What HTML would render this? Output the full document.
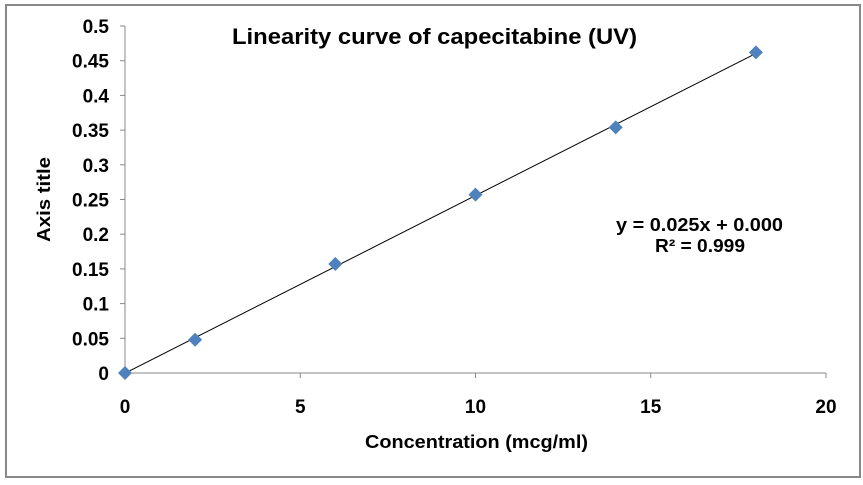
<!DOCTYPE html>
<html><head><meta charset="utf-8"><style>
html,body{margin:0;padding:0;background:#fff;}
svg text{font-family:"Liberation Sans",Arial,sans-serif;font-weight:bold;fill:#000;}
</style></head><body>
<svg id="chart" width="863" height="480" xmlns="http://www.w3.org/2000/svg">
<rect x="6" y="5" width="854" height="472" fill="#fff" stroke="#888" stroke-width="2"/>
<text x="232" y="44" font-size="22" textLength="405" lengthAdjust="spacingAndGlyphs">Linearity curve of capecitabine (UV)</text>
<text x="365" y="448" font-size="18" textLength="223" lengthAdjust="spacingAndGlyphs">Concentration (mcg/ml)</text>
<text transform="translate(50,242) rotate(-90)" font-size="18" textLength="85" lengthAdjust="spacingAndGlyphs">Axis title</text>
<text x="616" y="231" font-size="18" textLength="167" lengthAdjust="spacingAndGlyphs">y = 0.025x + 0.000</text>
<text x="655" y="252" font-size="18" textLength="90" lengthAdjust="spacingAndGlyphs">R² = 0.999</text>
<g id="axes"></g><g id="marks"></g>
</svg>
<script>
const xValues = [0, 2, 6, 10, 14, 18];
const yValues = [0, 0.048, 0.157, 0.257, 0.354, 0.462];
const xTicks = [0, 5, 10, 15, 20];
const yTicks = ["0","0.05","0.1","0.15","0.2","0.25","0.3","0.35","0.4","0.45","0.5"];
const NS = "http://www.w3.org/2000/svg";
const X0=125, X1=826, Y0=373, Y1=26;
const xs = v => X0 + (v/20)*(X1-X0);
const ys = v => Y0 - (v/0.5)*(Y0-Y1);
function mk(tag, attrs, parent){const e=document.createElementNS(NS,tag);for(const k in attrs)e.setAttribute(k,attrs[k]);parent.appendChild(e);return e;}
const axes=document.getElementById('axes'), marks=document.getElementById('marks');
let e=mk('line',{x1:X0,y1:Y1,x2:X0,y2:Y0,stroke:'#888','stroke-width':1},axes);


e=mk('line',{x1:X0,y1:Y0,x2:X1,y2:Y0,stroke:'#888','stroke-width':1},axes);


yTicks.forEach(t=>{const y=ys(parseFloat(t));
 mk('line',{x1:X0-5,y1:y,x2:X0,y2:y,stroke:'#888'},axes);
 const tx=mk('text',{x:109,y:y+7,'font-size':19,'text-anchor':'end'},axes);tx.textContent=t;
 
 });
xTicks.forEach(t=>{const x=xs(t);
 mk('line',{x1:x,y1:Y0,x2:x,y2:Y0+5,stroke:'#888'},axes);
 const tx=mk('text',{x:x,y:413,'font-size':19,'text-anchor':'middle'},axes);tx.textContent=t;
 
 });
const n=xValues.length, mx=xValues.reduce((a,b)=>a+b)/n, my=yValues.reduce((a,b)=>a+b)/n;
let sxy=0,sxx=0;xValues.forEach((x,i)=>{sxy+=(x-mx)*(yValues[i]-my);sxx+=(x-mx)*(x-mx);});
const m=sxy/sxx,b=my-m*mx;
const xmin=Math.min(...xValues),xmax=Math.max(...xValues);
e=mk('line',{x1:xs(xmin),y1:ys(m*xmin+b),x2:xs(xmax),y2:ys(m*xmax+b),stroke:'#000','stroke-width':1},marks);


xValues.forEach((x,i)=>{const cx=xs(x),cy=ys(yValues[i]);
 const p=mk('polygon',{points:`${cx},${cy-7} ${cx+7},${cy} ${cx},${cy+7} ${cx-7},${cy}`,fill:'#4f81bd'},marks);
 
 });
</script>
</body></html>
